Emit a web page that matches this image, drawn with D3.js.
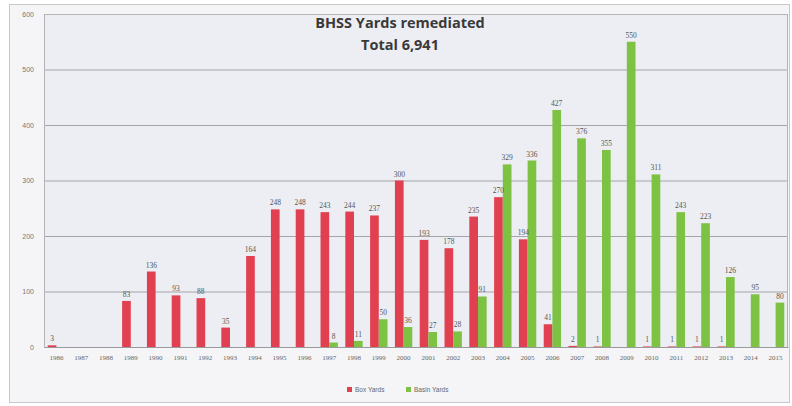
<!DOCTYPE html>
<html>
<head>
<meta charset="utf-8">
<script src="https://cdn.jsdelivr.net/npm/d3@7"></script>
<style>
  body { margin: 0; background: #fff; }
  svg { display: block; font-family: "Liberation Sans", Arial, sans-serif; }
</style>
</head>
<body>
<svg id="chart" width="792" height="406"></svg>
<script>
const years = ['1986', '1987', '1988', '1989', '1990', '1991', '1992', '1993', '1994', '1995',
  '1996', '1997', '1998', '1999', '2000', '2001', '2002', '2003', '2004', '2005',
  '2006', '2007', '2008', '2009', '2010', '2011', '2012', '2013', '2014', '2015']
const boxYards = [3, 0, 0, 83, 136, 93, 88, 35, 164, 248,
  248, 243, 244, 237, 300, 193, 178, 235, 270, 194,
  41, 2, 1, 0, 1, 1, 1, 1, 0, 0]
const basinYards = [0, 0, 0, 0, 0, 0, 0, 0, 0, 0,
  0, 8, 11, 50, 36, 27, 28, 91, 329, 336,
  427, 376, 355, 550, 311, 243, 223, 126, 95, 80]
const seriesNames = ['Box Yards', 'Basin Yards']
const seriesColors = ['#e0404f', '#7dc242']
const yTicks = [0, 100, 200, 300, 400, 500, 600]
const titleLines = ['BHSS Yards remediated', 'Total 6,941']

const svg = d3.select('#chart')

// outer chart frame
svg.append('rect')
  .attr('x', 9.5).attr('y', 4.5)
  .attr('width', 780).attr('height', 398)
  .attr('fill', '#f5f5f7')
  .attr('stroke', '#c8c8c8')

const plot = { left: 44, top: 14, right: 788, bottom: 347 }

// plot area background
svg.append('rect')
  .attr('x', plot.left).attr('y', plot.top)
  .attr('width', plot.right - plot.left).attr('height', plot.bottom - plot.top)
  .attr('fill', '#edeef3')

// scales
const x = d3.scaleBand()
  .domain(years)
  .range([plot.left, plot.right])
  .paddingInner(0.3)
  .paddingOuter(0.15)

const xSub = d3.scaleBand()
  .domain(seriesNames)
  .range([0, x.bandwidth()])

const y = d3.scaleLinear()
  .domain([0, 600])
  .range([plot.bottom, plot.top])

// horizontal grid
const grid = svg.append('g')
  .attr('transform', `translate(${plot.left},0)`)
  .call(d3.axisLeft(y).tickValues(yTicks).tickSize(-(plot.right - plot.left)).tickFormat(''))
grid.select('.domain').remove()
grid.selectAll('line').attr('stroke', '#a4a4a9').attr('stroke-width', 1)

// plot border
svg.append('rect')
  .attr('x', plot.left + 0.5).attr('y', plot.top + 0.5)
  .attr('width', plot.right - plot.left - 1).attr('height', plot.bottom - plot.top)
  .attr('fill', 'none')
  .attr('stroke', '#b4b4b8')

// y axis labels
const yAxis = svg.append('g')
  .attr('transform', `translate(${plot.left},0)`)
  .call(d3.axisLeft(y).tickValues(yTicks).tickSize(0).tickPadding(10))
yAxis.select('.domain').remove()
yAxis.selectAll('text')
  .attr('font-size', 7)
  .attr('fill', '#777')

// x axis
const xAxis = svg.append('g')
  .attr('transform', `translate(0,${plot.bottom})`)
  .call(d3.axisBottom(x).tickSize(0).tickPadding(8))
xAxis.select('.domain').attr('stroke', '#9a9a9e')
xAxis.selectAll('text')
  .attr('font-family', '"Liberation Serif", serif')
  .attr('font-size', 7)
  .attr('fill', '#666')

// bars
const rows = years.map((yr, i) => ({ year: yr, values: [boxYards[i], basinYards[i]] }))

const groups = svg.append('g')
  .selectAll('g')
  .data(rows)
  .join('g')
  .attr('transform', d => `translate(${x(d.year)},0)`)

groups.selectAll('rect')
  .data(d => d.values.map((v, k) => ({ key: seriesNames[k], value: v, color: seriesColors[k] })))
  .join('rect')
  .attr('x', d => xSub(d.key))
  .attr('y', d => y(d.value))
  .attr('width', xSub.bandwidth())
  .attr('height', d => y(0) - y(d.value))
  .attr('fill', d => d.color)

// value labels
groups.selectAll('text')
  .data(d => d.values.map((v, k) => ({ key: seriesNames[k], value: v })).filter(d => d.value > 0))
  .join('text')
  .attr('x', d => xSub(d.key) + xSub.bandwidth() / 2)
  .attr('y', d => y(d.value) - 4)
  .attr('text-anchor', 'middle')
  .attr('font-family', '"Liberation Serif", serif')
  .attr('font-size', 7.5)
  .attr('fill', '#555')
  .text(d => d.value)

// title
svg.append('g')
  .selectAll('text')
  .data(titleLines)
  .join('text')
  .attr('x', 400)
  .attr('y', (d, i) => 28 + i * 22)
  .attr('text-anchor', 'middle')
  .attr('font-family', '"Open Sans", sans-serif')
  .attr('font-weight', 'bold')
  .attr('font-size', 14.5)
  .attr('fill', '#3a3a3a')
  .text(d => d)

// legend
const legend = svg.append('g')
  .selectAll('g')
  .data(seriesNames)
  .join('g')
  .attr('transform', (d, i) => `translate(${347 + i * 59},387)`)

legend.append('rect')
  .attr('width', 5).attr('height', 5)
  .attr('fill', (d, i) => seriesColors[i])

legend.append('text')
  .attr('x', 8)
  .attr('y', 5)
  .attr('font-size', 6.5)
  .attr('fill', '#666')
  .text(d => d)
</script>
</body>
</html>
